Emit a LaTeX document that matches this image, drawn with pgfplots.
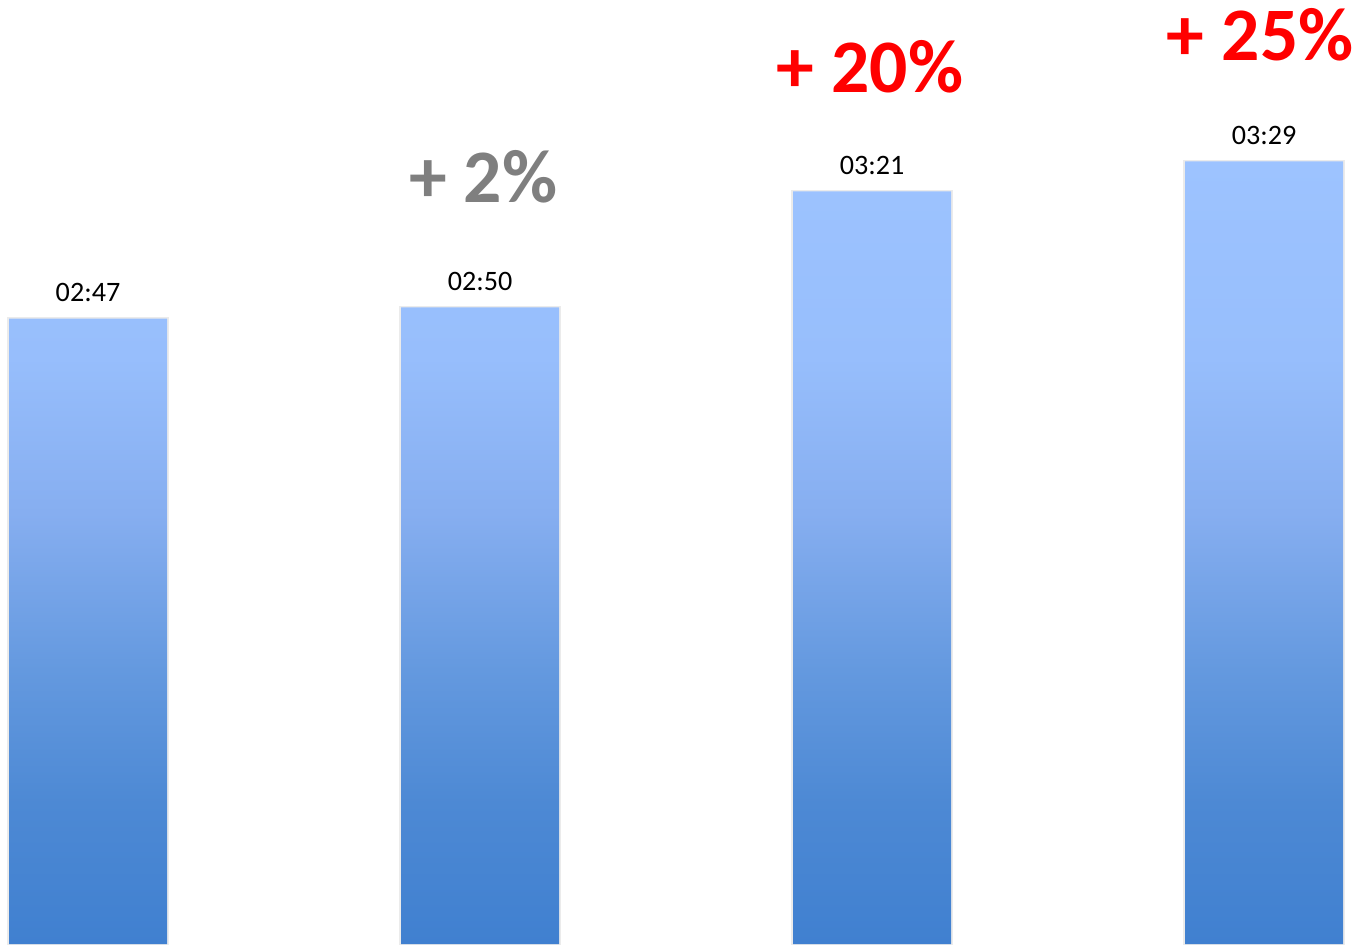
\documentclass[border=0pt]{standalone}
\usepackage{pgfplots}
\pgfplotsset{compat=1.18}
\usepackage{fontspec}
\setmainfont{Carlito}
\definecolor{sA}{HTML}{4080D0}
\definecolor{sB}{HTML}{4D89D4}
\definecolor{sC}{HTML}{6499DF}
\definecolor{sD}{HTML}{86AEF0}
\definecolor{sE}{HTML}{97BEFC}
\definecolor{sF}{HTML}{9DC3FF}
\definecolor{pctgray}{HTML}{7F7F7F}
\pgfdeclareverticalshading{barshade}{100bp}{color(0bp)=(sA); color(25bp)=(sA); color(34bp)=(sB); color(42.5bp)=(sC); color(52.5bp)=(sD); color(62.5bp)=(sE); color(75bp)=(sF); color(100bp)=(sF)}
\begin{document}
\begin{tikzpicture}
\begin{axis}[
  width=13.57cm, height=9.44cm, scale only axis,
  hide axis,
  xmin=-0.2245, xmax=3.237,
  ymin=0, ymax=252.1,
  ybar, bar width=1.58cm,
  clip=false,
  nodes near coords,
  point meta=explicit symbolic,
  every node near coord/.append style={font=\fontsize{8}{9}\selectfont, anchor=base, yshift=0.17cm, text=black},
]
\addplot[draw=none, shading=barshade,
  preaction={draw=black!8, line width=0.035cm}]
  coordinates {(0,167) [02:47] (1,170) [02:50] (2,201) [03:21] (3,209) [03:29]};
\node[anchor=base, text=pctgray, font=\bfseries\fontsize{21.5}{26}\selectfont] at (axis cs:1.008,197.9) {+ 2\%};
\node[anchor=base, text=red, font=\bfseries\fontsize{21.5}{26}\selectfont] at (axis cs:1.995,227.5) {+ 20\%};
\node[anchor=base, text=red, font=\bfseries\fontsize{21.5}{26}\selectfont] at (axis cs:2.99,236.0) {+ 25\%};
\end{axis}
\pgfresetboundingbox
\path[use as bounding box] (current axis.south west) rectangle (current axis.north east);
\end{tikzpicture}
\end{document}
